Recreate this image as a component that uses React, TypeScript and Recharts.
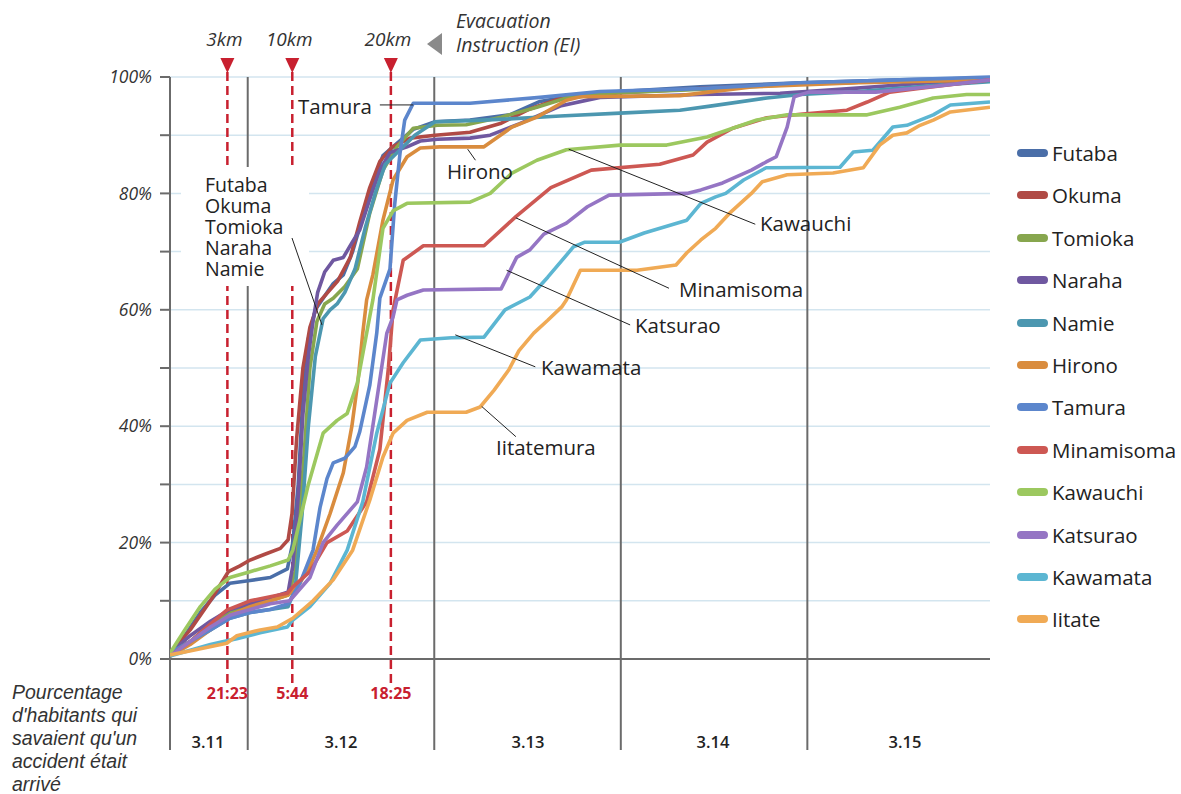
import React from 'react';
import { LineChart, Line, XAxis, YAxis, CartesianGrid, ReferenceLine } from 'recharts';

// hours counted from 3.11 00:00, value = % of inhabitants aware of the accident
type Pt = [number, number];

const futaba: Pt[] = [
  [14, 1], [15.9, 4], [17.9, 8], [19.8, 11], [21.7, 13], [24.3, 13.5], [26.9, 14], [29.1, 15.5],
  [29.8, 20], [30.5, 30], [31.1, 45], [31.8, 55], [32.7, 60], [33.7, 62], [35.0, 64.5], [36.3, 66],
  [37.5, 70], [38.8, 76], [40.1, 82], [41.4, 86.5], [43.2, 88.6], [45.3, 91], [48.1, 92.3], [52.6, 92.6],
  [57.7, 93.5], [61.6, 95.8], [66.8, 97], [71.9, 97.5], [82.2, 98.3], [95.1, 99], [107.9, 99.5], [119.5, 99.8],
];
const okuma: Pt[] = [
  [14, 1], [16.6, 5], [19.2, 10], [21.5, 15], [23, 16], [24.3, 17], [26.2, 18], [28.2, 19], [29.2, 20.5],
  [29.7, 25], [30.3, 38], [31.1, 50], [32, 57], [33, 61], [34.3, 63], [35.6, 65], [37.2, 69], [38.4, 75],
  [39.7, 81], [41, 85.5], [42.6, 88], [44.9, 89.5], [48.1, 90], [52.6, 90.5], [56.5, 92], [60.3, 94.5],
  [64.2, 96.3], [71.9, 97.3], [82.2, 98], [95.1, 98.8], [107.9, 99.3], [119.5, 99.8],
];
const tomioka: Pt[] = [
  [14, 1], [16.6, 3], [19.2, 6], [21.7, 8], [24.3, 9], [26.9, 10], [29.2, 11], [30.1, 15], [30.7, 25],
  [31.4, 38], [32, 50], [32.9, 58], [33.9, 61], [35, 62], [36.5, 64], [38.1, 67], [39.7, 76.6], [41.4, 84],
  [43.2, 88], [45.3, 91.2], [48.4, 91.7], [52.1, 91.8], [56.6, 93.1], [61.2, 94.8], [65, 96.4], [70.5, 97.2],
  [84.2, 98], [95.1, 98.8], [107.9, 99.3], [119.5, 99.6],
];
const naraha: Pt[] = [
  [14, 1], [16.6, 4], [19.2, 6.5], [21.7, 8.5], [24.3, 9.5], [26.9, 10.5], [29.2, 11.5], [29.8, 16],
  [30.5, 28], [31.1, 42], [31.8, 52], [32.4, 58], [33, 63], [33.9, 66.5], [35, 68.5], [36.3, 69],
  [37.4, 71.5], [38.4, 73.7], [39.7, 79], [41, 84], [42.3, 87], [44.5, 88], [46.2, 89], [48.4, 89.3],
  [52.6, 89.5], [55.2, 90], [59, 92], [64.2, 95], [69.3, 96.5], [82.2, 97], [92.5, 97.2], [101.5, 98],
  [111.8, 99], [119.5, 99.7],
];
const namie: Pt[] = [
  [14, 1], [16.6, 3], [19.2, 5], [21.7, 7], [24.3, 8], [26.9, 8.5], [29.2, 9], [30.1, 12], [31, 25],
  [31.8, 40], [32.7, 52], [33.7, 58.5], [34.6, 60], [35.5, 61], [36.5, 63], [37.8, 67], [39.1, 74],
  [40.4, 80], [41.7, 85], [43.6, 87.5], [45.5, 90], [48.1, 92.3], [52.6, 92.5], [57.7, 92.8], [64.2, 93.3],
  [71.9, 93.8], [79.6, 94.3], [83.5, 95], [90.8, 96.4], [95.1, 97], [102.6, 97.5], [111.8, 98.5], [119.5, 99.2],
];
const hirono: Pt[] = [
  [14, 0.5], [16.6, 2.5], [19.2, 5], [21.7, 7.5], [24.3, 9], [26.9, 10], [29.2, 11], [30.7, 13], [32, 16],
  [32.9, 18.7], [34.6, 25], [36.3, 32], [37.4, 40], [38.2, 48], [38.8, 56], [39.3, 61.7], [40.1, 66],
  [41.4, 75.4], [42.7, 82.3], [44.5, 86.3], [46.2, 87.8], [48.7, 88], [54.4, 88], [58, 91.4], [61.2, 93.1],
  [65, 96], [66.8, 96.6], [79.6, 96.8], [88.8, 98.3], [102.6, 99], [119.5, 99.5],
];
const tamura: Pt[] = [
  [14, 1], [16.6, 3], [19.2, 5], [21.7, 7], [24.3, 8], [26.9, 8.5], [29.2, 9.5], [30.7, 13], [31.6, 16],
  [32.4, 18.7], [33.3, 26], [34.2, 31], [35, 33.7], [36.5, 34.5], [37.8, 36.5], [38.4, 39], [39.7, 47],
  [40.6, 56], [41, 62], [42.3, 67], [42.9, 78], [43.6, 87], [44.2, 92.6], [45.3, 95.5], [52.6, 95.5],
  [61.6, 96.5], [69.3, 97.5], [82.2, 98], [95.1, 99], [107.9, 99.5], [119.5, 100],
];
const minamisoma: Pt[] = [
  [14, 0.5], [16.6, 3], [19.2, 6], [21.3, 8.4], [24.3, 10], [29.1, 11.3], [29.8, 12.4], [32, 15], [34.2, 20],
  [36.8, 22], [39.3, 27], [41, 36], [42.1, 50], [42.7, 60], [44, 68.5], [46.6, 71], [54.4, 71], [58.5, 76],
  [63, 81], [68.2, 84], [77, 85], [81.3, 86.6], [83.1, 88.8], [86.4, 91.2], [90.8, 93], [95.1, 93.6],
  [101.1, 94.3], [103.7, 95.7], [106.6, 97.4], [110.1, 98], [116.5, 99], [119.5, 99.5],
];
const kawauchi: Pt[] = [
  [14, 1], [15.9, 5], [17.9, 9], [19.8, 12], [21.7, 14], [24.3, 15], [26.9, 16], [29.2, 17], [29.8, 18.7],
  [31.8, 30], [33.7, 38.8], [35.5, 41], [36.8, 42.2], [38.1, 47.4], [39.3, 56], [40.1, 61.7], [41.4, 74],
  [42.7, 77], [44.5, 78.3], [52.6, 78.5], [55.2, 80], [58, 83.5], [61.2, 85.7], [65, 87.5], [71.9, 88.3],
  [77.9, 88.3], [83.1, 89.7], [86.4, 91.2], [89.5, 92.6], [93.4, 93.5], [103.7, 93.5], [107.9, 94.8],
  [112.2, 96.4], [116.5, 97], [119.5, 97],
];
const katsurao: Pt[] = [
  [14, 0.5], [16.6, 3], [19.2, 5.5], [21.7, 7.5], [24.3, 8.5], [26.9, 9.5], [29.4, 10], [32, 14], [33.7, 20],
  [35.5, 23], [38.1, 27], [39.3, 33], [40.6, 44.5], [41.9, 56], [42.7, 58.8], [43.2, 61.7], [44.5, 62.5],
  [46.6, 63.4], [56.6, 63.6], [57.6, 66.3], [58.6, 69], [60.3, 70.3], [62.1, 73], [65, 74.9], [67.7, 77.7],
  [70.5, 79.7], [80.5, 80], [82.3, 80.6], [85.1, 81.8], [88.8, 84], [90.7, 85.4], [92, 86.3], [93.4, 91.4],
  [94.3, 96.6], [96.2, 97.4], [104.8, 97.4], [113.1, 98.5], [119.5, 99.5],
];
const kawamata: Pt[] = [
  [14, 0.5], [16.6, 1.5], [19.2, 2.5], [22.6, 3.5], [25.6, 4.5], [29.1, 5.5], [29.8, 6.7], [32, 9], [34.6, 13],
  [36.8, 18.7], [38.8, 27], [40.6, 38.8], [42.3, 47.4], [44, 50.9], [46.2, 54.8], [50.2, 55.2], [54.4, 55.3],
  [57.1, 60], [60.3, 62.2], [62.6, 65.6], [65.9, 70.8], [67.3, 71.6], [71.8, 71.6], [75, 73.2], [80.5, 75.4],
  [82.3, 78.3], [84.2, 79.4], [85.5, 80], [87.8, 82.3], [90.7, 84.4], [100.2, 84.5], [101.9, 87.1],
  [104.4, 87.4], [107, 91.4], [108.8, 91.7], [110.5, 92.6], [112.2, 93.5], [114.4, 95.2], [119.5, 95.7],
];
const iitate: Pt[] = [
  [14, 0.7], [17, 1.5], [21.3, 2.7], [22.6, 4], [25.6, 5], [27.8, 5.5], [29.8, 7], [32.4, 10], [35, 13.6],
  [37.5, 18.7], [39.7, 27.3], [41.4, 34.7], [42.7, 38.8], [44.5, 41], [47.1, 42.4], [52.1, 42.4], [53.9, 43.3],
  [55.7, 46.2], [57.6, 49.7], [58.9, 53], [60.8, 56], [62.6, 58.2], [64.4, 60.5], [65, 61.7], [66.8, 66.8],
  [74.1, 66.8], [79.1, 67.7], [80.5, 69.8], [82.3, 72], [84.2, 74], [86, 76.6], [88.8, 80], [90.2, 82],
  [93.4, 83.2], [99.3, 83.5], [103.2, 84.4], [105.3, 88.3], [107, 90], [108.8, 90.4], [110.5, 91.7],
  [112.2, 92.6], [114.4, 94], [119.5, 94.8],
];

const series = [
  { name: 'Futaba', color: '#4A6EA8', data: futaba },
  { name: 'Okuma', color: '#B04A45', data: okuma },
  { name: 'Tomioka', color: '#87A64E', data: tomioka },
  { name: 'Naraha', color: '#6F58A0', data: naraha },
  { name: 'Namie', color: '#4C97B0', data: namie },
  { name: 'Hirono', color: '#D98C3E', data: hirono },
  { name: 'Tamura', color: '#5C86CC', data: tamura },
  { name: 'Minamisoma', color: '#CD5853', data: minamisoma },
  { name: 'Kawauchi', color: '#9CC85F', data: kawauchi },
  { name: 'Katsurao', color: '#9575C4', data: katsurao },
  { name: 'Kawamata', color: '#5CB6D2', data: kawamata },
  { name: 'Iitate', color: '#F0AA55', data: iitate },
];

const yTicks = [0, 10, 20, 30, 40, 50, 60, 70, 80, 90, 100];
const dayBounds = [24, 48, 72, 96];
const dayLabels = [
  { text: '3.11', x: 208 },
  { text: '3.12', x: 341 },
  { text: '3.13', x: 528 },
  { text: '3.14', x: 713 },
  { text: '3.15', x: 905 },
];
// evacuation instructions: time of day and radius
const alerts = [
  { h: 21.383, time: '21:23', zone: '3km' },
  { h: 29.733, time: '5:44', zone: '10km' },
  { h: 42.417, time: '18:25', zone: '20km' },
];

// callouts: anchor on the curve -> end near the label (h, %)
const callouts = [
  { text: 'Tamura', from: [41.0, 95.2], to: [45.3, 95.2], left: 298, cy: 106 },
  { text: 'Hirono', from: [52.3, 87.6], to: [53.3, 85.7], left: 447, cy: 171 },
  { text: 'Kawauchi', from: [65.3, 87.6], to: [89.3, 74.7], left: 760, cy: 223 },
  { text: 'Minamisoma', from: [58.5, 75.8], to: [78.2, 63.7], left: 679, cy: 289 },
  { text: 'Katsurao', from: [57.3, 66.8], to: [73.2, 57.4], left: 635, cy: 325 },
  { text: 'Kawamata', from: [50.7, 55.7], to: [61.0, 50.2], left: 541, cy: 367 },
  { text: 'Iitatemura', from: [54.1, 43.4], to: [58.5, 38.2], left: 496, cy: 447 },
];
const groupNames = ['Futaba', 'Okuma', 'Tomioka', 'Naraha', 'Namie'];

const GRAY = '#6b6b6b';
const RED = '#C8202F';

const dayLine = (p: any) => {
  const top = Math.min(p.y1, p.y2);
  const bot = Math.max(p.y1, p.y2);
  return <line x1={p.x1} x2={p.x2} y1={top} y2={bot + 91} stroke={GRAY} strokeWidth={2} />;
};

const alertLine = (a: { time: string; zone: string }) => (p: any) => {
  const top = Math.min(p.y1, p.y2);
  const bot = Math.max(p.y1, p.y2);
  const x = p.x1;
  return (
    <g>
      <line x1={x} x2={x} y1={top - 5} y2={bot + 24} stroke={RED} strokeWidth={2.5} strokeDasharray="9 5" />
      <polygon points={`${x - 7},${top - 19} ${x + 7},${top - 19} ${x},${top - 4}`} fill={RED} />
      <text x={x} y={bot + 40} textAnchor="middle" fill={RED} fontWeight={700} fontSize={16}>
        {a.time}
      </text>
      <text x={x - 3} y={top - 31} textAnchor="middle" fill="#333" fontStyle="italic" fontSize={19}>
        {a.zone}
      </text>
    </g>
  );
};

export default function App() {
  return (
    <div
      style={{
        position: 'absolute',
        left: 0,
        top: 0,
        width: 1181,
        height: 794,
        background: '#fff',
        fontFamily: '"Open Sans", sans-serif',
        color: '#222',
        overflow: 'hidden',
      }}
    >
      <LineChart width={1181} height={794} margin={{ top: 77, right: 191, bottom: 135, left: 0 }}>
        <CartesianGrid vertical={false} stroke="#d3e5ef" strokeWidth={1.5} />
        <XAxis type="number" dataKey="h" domain={[14, 119.5]} allowDataOverflow hide />
        <YAxis
          type="number"
          domain={[0, 100]}
          ticks={yTicks}
          interval={0}
          width={170}
          axisLine={false}
          tickLine={{ stroke: GRAY, strokeWidth: 2 }}
          tickSize={10}
          tickMargin={8}
          tick={{ fontSize: 17.5, fill: '#333', fontStyle: 'italic' }}
          tickFormatter={(v: number) => (v % 20 === 0 ? `${v}%` : '')}
        />
        {dayBounds.map((d) => (
          <ReferenceLine key={d} x={d} shape={dayLine} />
        ))}
        <ReferenceLine x={14} shape={dayLine} />
        <ReferenceLine y={0} stroke={GRAY} strokeWidth={2} />
        {alerts.map((a) => (
          <ReferenceLine key={a.time} x={a.h} shape={alertLine(a)} />
        ))}
        {series.map((s) => (
          <Line
            key={s.name}
            data={s.data.map(([h, v]) => ({ h, v }))}
            dataKey="v"
            name={s.name}
            type="linear"
            stroke={s.color}
            strokeWidth={3.6}
            strokeLinejoin="round"
            dot={false}
            activeDot={false}
            isAnimationActive={false}
          />
        ))}
        {callouts.map((c) => (
          <ReferenceLine
            key={c.text}
            segment={[
              { x: c.from[0], y: c.from[1] },
              { x: c.to[0], y: c.to[1] },
            ]}
            stroke="#222"
            strokeWidth={1}
          />
        ))}
      </LineChart>

      {/* evacuation instruction header */}
      <svg style={{ position: 'absolute', left: 427, top: 33 }} width={16} height={22}>
        <polygon points="15,0 15,22 0,11" fill="#8a8a8a" />
      </svg>
      <div style={{ position: 'absolute', left: 456, top: 9, fontSize: 19.5, lineHeight: '24px', fontStyle: 'italic', color: '#333' }}>
        Evacuation
        <br />
        Instruction (EI)
      </div>

      {/* day labels */}
      {dayLabels.map((d) => (
        <div
          key={d.text}
          style={{
            position: 'absolute',
            left: d.x,
            top: 741,
            transform: 'translate(-50%, -50%)',
            fontSize: 16.5,
            fontWeight: 600,
            color: '#222',
          }}
        >
          {d.text}
        </div>
      ))}

      {/* y caption */}
      <div
        style={{
          position: 'absolute',
          left: 12,
          top: 681,
          fontFamily: '"Liberation Sans", Arial, sans-serif',
          fontStyle: 'italic',
          fontSize: 19.5,
          lineHeight: '23px',
          color: '#333',
        }}
      >
        Pourcentage
        <br />
        d'habitants qui
        <br />
        savaient qu'un
        <br />
        accident était
        <br />
        arrivé
      </div>

      {/* callout labels */}
      {callouts.map((c) => (
        <div
          key={c.text}
          style={{ position: 'absolute', left: c.left, top: c.cy, transform: 'translateY(-50%)', fontSize: 20.5, whiteSpace: 'nowrap' }}
        >
          {c.text}
        </div>
      ))}

      {/* grouped label on a white card, with its leader */}
      <div
        style={{
          position: 'absolute',
          left: 181,
          top: 167,
          width: 128,
          height: 119,
          background: '#fff',
          boxSizing: 'border-box',
          paddingLeft: 24,
          paddingTop: 7,
          fontSize: 19.5,
          lineHeight: '21px',
        }}
      >
        {groupNames.map((n) => (
          <div key={n}>{n}</div>
        ))}
      </div>
      <svg style={{ position: 'absolute', left: 0, top: 0, pointerEvents: 'none' }} width={1181} height={794}>
        <line x1={292} y1={238} x2={322} y2={325} stroke="#222" strokeWidth={1} />
      </svg>

      {/* legend */}
      {series.map((s, i) => (
        <div
          key={s.name}
          style={{
            position: 'absolute',
            left: 1017,
            top: 153 + i * 42.4,
            transform: 'translateY(-50%)',
            display: 'flex',
            alignItems: 'center',
            whiteSpace: 'nowrap',
          }}
        >
          <span style={{ width: 31, height: 8, borderRadius: 4, background: s.color, marginRight: 4, display: 'inline-block' }} />
          <span style={{ fontSize: 20.5 }}>{s.name}</span>
        </div>
      ))}
    </div>
  );
}
